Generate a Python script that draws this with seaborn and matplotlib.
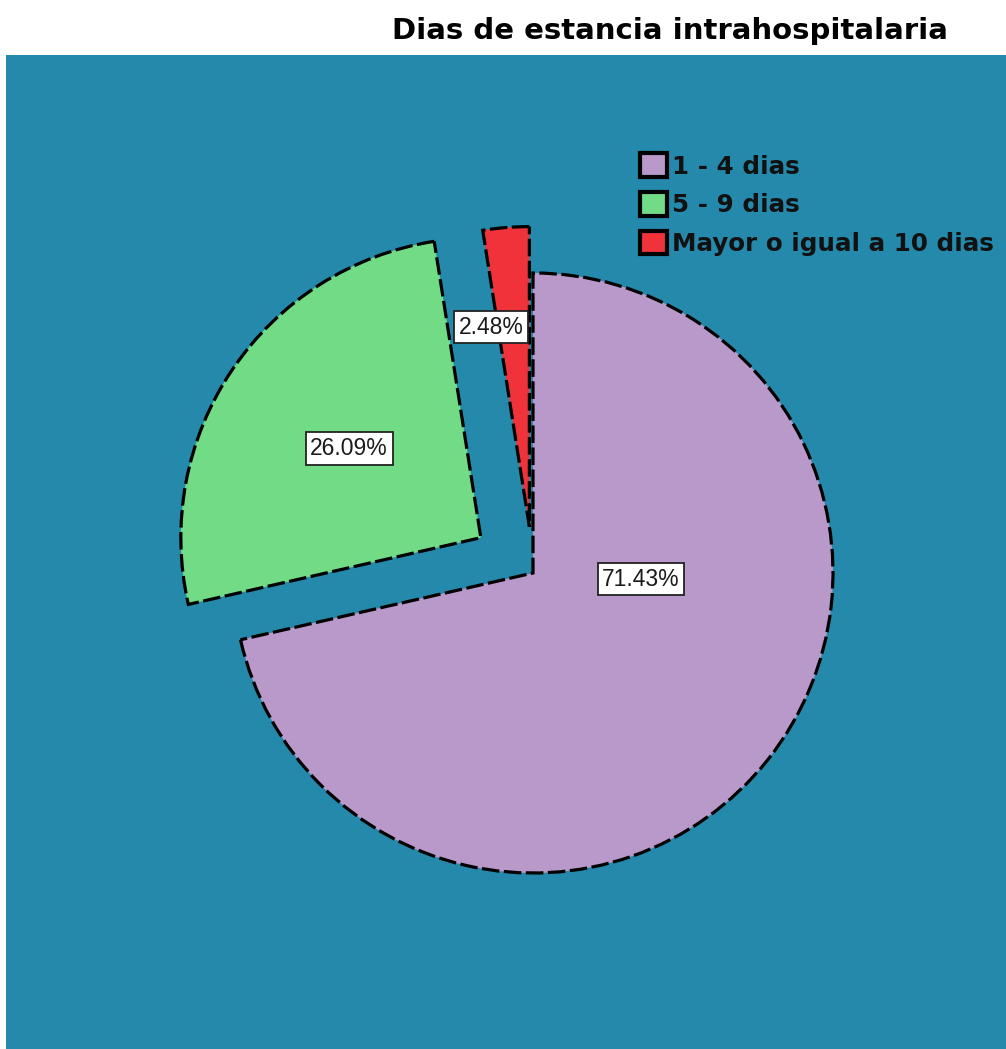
import matplotlib
matplotlib.use("Agg")
import matplotlib.pyplot as plt
import seaborn as sns

# data
categories = ["1 - 4 dias", "5 - 9 dias", "Mayor o igual a 10 dias"]
counts = [115, 42, 4]  # 71.43%, 26.09%, 2.48%
colors = ["#B899C9", "#71DB85", "#F0333A"]
explode = [0, 0.21, 0.155]

sns.set_style("white")
plt.rcParams['font.family'] = ['Liberation Sans', 'DejaVu Sans']

fig = plt.figure(figsize=(10.06, 10.49), dpi=100)
ax = fig.add_axes([6 / 1006, 0, 1000 / 1006, 994 / 1049])

wedges, texts, autotexts = ax.pie(
    counts, colors=colors, explode=explode, startangle=90, counterclock=False,
    radius=1, autopct='%1.2f%%', pctdistance=0.53, frame=True,
    wedgeprops=dict(edgecolor='black', linewidth=2.3, linestyle=(0, (5.5, 1.4))),
    textprops=dict(fontsize=16.5, color='#1a1a1a'))
ax.set_facecolor("#2589AB")
ax.set_xticks([])
ax.set_yticks([])

for t in autotexts:
    t.set_bbox(dict(boxstyle='square,pad=0.2', fc='white', ec='#222222', lw=1.3))
# SPSS puts the big slice label near the centre, not at mid angle
autotexts[0].set_position((0.36, -0.02))
autotexts[2].set_position((-0.14, 0.82))

ax.set_xlim(-527 / 300, 473 / 300)
ax.set_ylim(-476 / 300, 518 / 300)
ax.set_aspect('equal', adjustable='box')
for s in ax.spines.values():
    s.set_visible(False)

leg = ax.legend(wedges, categories, loc='upper left', bbox_to_anchor=(0.634, 0.901),
                frameon=False, borderpad=0, borderaxespad=0, handlelength=1.1,
                handleheight=1.1, handletextpad=0.2, labelspacing=0.55,
                prop=dict(family='DejaVu Sans', weight='bold', size=17.7))
for h in leg.legend_handles:
    h.set_linestyle('-')
    h.set_linewidth(3)
for t in leg.get_texts():
    t.set_color('#111111')

fig.text(948 / 1006, 1 - 31 / 1049, "Dias de estancia intrahospitalaria",
         ha='right', va='center', fontsize=21, fontweight='bold',
         family='DejaVu Sans', color='black')

fig.savefig("out.png", dpi=100, facecolor='white')
